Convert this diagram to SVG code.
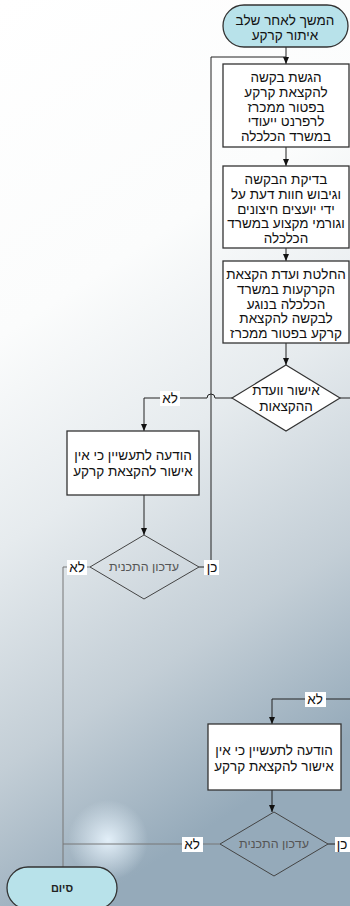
<svg xmlns="http://www.w3.org/2000/svg" width="350" height="906" viewBox="0 0 350 906">
<defs>
<linearGradient id="bg" x1="0" y1="0" x2="0.25" y2="1">
<stop offset="0" stop-color="#ffffff"/>
<stop offset="0.35" stop-color="#fbfcfc"/>
<stop offset="0.57" stop-color="#e6ebee"/>
<stop offset="0.8" stop-color="#c3ced6"/>
<stop offset="1" stop-color="#95aaba"/>
</linearGradient>
<radialGradient id="glow" cx="108" cy="840" r="40" gradientUnits="userSpaceOnUse">
<stop offset="0" stop-color="#eaf6ff" stop-opacity="0.9"/>
<stop offset="1" stop-color="#eaf6ff" stop-opacity="0"/>
</radialGradient>
<marker id="arr" markerWidth="8" markerHeight="6" refX="7" refY="3" orient="auto" markerUnits="userSpaceOnUse">
<path d="M0,0 L7,3 L0,6 Z" fill="#111"/>
</marker>
<style>
.box{fill:#fff;stroke:#333;stroke-width:1.3}
.term{fill:#b8e2ea;stroke:#333;stroke-width:1.3}
.dia{fill:#fff;stroke:#333;stroke-width:1.2}
.dia2{fill:none;stroke:#444;stroke-width:1}
.t{font-family:"Liberation Sans","DejaVu Sans",sans-serif;font-size:13.5px;fill:#111;text-anchor:middle}
.ts{font-family:"Liberation Sans","DejaVu Sans",sans-serif;font-size:12.5px;fill:#555;text-anchor:middle}
.tb{font-family:"Liberation Sans","DejaVu Sans",sans-serif;font-size:11px;font-weight:bold;fill:#222;text-anchor:middle}
.c{fill:none;stroke:#222;stroke-width:1}
.cg{fill:none;stroke:#777;stroke-width:1}
.lb{fill:#fff}
</style>
</defs>
<rect x="0" y="0" width="350" height="906" fill="url(#bg)"/>
<rect x="0" y="780" width="220" height="126" fill="url(#glow)"/>

<g id="connectors">
<path class="c" d="M286,47 V64" marker-end="url(#arr)"/>
<path class="c" d="M286,147 V166" marker-end="url(#arr)"/>
<path class="c" d="M286,248 V261" marker-end="url(#arr)"/>
<path class="c" d="M286,343 V365" marker-end="url(#arr)"/>
<path class="c" d="M232,398 H215 A4,4 0 0 0 207,398 H144 V431" marker-end="url(#arr)"/>
<path class="c" d="M340,398 H350"/>
<path class="c" d="M144,495 V535" marker-end="url(#arr)"/>
<path class="c" d="M199,567 H211 V57 H286"/>
<path class="cg" d="M90,567 H63 V867"/>
<path class="cg" d="M220,844 H63"/>
<path class="c" d="M350,699 H272 V724" marker-end="url(#arr)"/>
<path class="c" d="M272,790 V812" marker-end="url(#arr)"/>
<path class="c" d="M328,844 H350"/>
<rect class="lb" x="160" y="391" width="20" height="15"/>
<text class="t" x="170" y="403">לא</text>
<rect class="lb" x="204" y="560" width="15" height="15"/>
<text class="t" x="212" y="572">כן</text>
<rect class="lb" x="67" y="560" width="20" height="15"/>
<text class="t" x="77" y="572">לא</text>
<rect class="lb" x="305" y="692" width="21" height="15"/>
<text class="t" x="315" y="704">לא</text>
<rect class="lb" x="182" y="837" width="21" height="15"/>
<text class="t" x="192" y="849">לא</text>
<rect class="lb" x="335" y="837" width="15" height="15"/>
<text class="t" x="342" y="849">כן</text>
</g>

<g id="start">
<rect class="term" x="223" y="5" width="125" height="42" rx="21"/>
<text class="t" x="285" y="25">המשך לאחר שלב</text>
<text class="t" x="285" y="40">איתור קרקע</text>
</g>

<g id="box1">
<rect class="box" x="223" y="64" width="126" height="83"/>
<text class="t" x="286" y="82">הגשת בקשה</text>
<text class="t" x="286" y="96.8">להקצאת קרקע</text>
<text class="t" x="286" y="111.5">בפטור ממכרז</text>
<text class="t" x="286" y="126.3">לרפרנט ייעודי</text>
<text class="t" x="286" y="141">במשרד הכלכלה</text>
</g>

<g id="box2">
<rect class="box" x="223" y="166" width="126" height="82"/>
<text class="t" x="286" y="184">בדיקת הבקשה</text>
<text class="t" x="286" y="198.8">וגיבוש חוות דעת על</text>
<text class="t" x="286" y="213.5">ידי יועצים חיצונים</text>
<text class="t" x="286" y="228.3">וגורמי מקצוע במשרד</text>
<text class="t" x="286" y="243">הכלכלה</text>
</g>

<g id="box3">
<rect class="box" x="223" y="261" width="126" height="82"/>
<text class="t" x="286" y="279">החלטת ועדת הקצאת</text>
<text class="t" x="286" y="293.8">הקרקעות במשרד</text>
<text class="t" x="286" y="308.5">הכלכלה בנוגע</text>
<text class="t" x="286" y="323.3">לבקשה להקצאת</text>
<text class="t" x="286" y="338">קרקע בפטור ממכרז</text>
</g>

<g id="decision1">
<polygon class="dia" points="286,365 340,398 286,431 232,398"/>
<text class="t" x="286" y="395">אישור וועדת</text>
<text class="t" x="286" y="411">ההקצאות</text>
</g>

<g id="box4">
<rect class="box" x="67" y="431" width="132" height="64"/>
<text class="t" x="133" y="460">הודעה לתעשיין כי אין</text>
<text class="t" x="133" y="476">אישור להקצאת קרקע</text>
</g>

<g id="decision2">
<polygon class="dia2" points="144,535 199,567 144,599 90,567"/>
<text class="ts" x="144" y="571">עדכון התכנית</text>
</g>

<g id="box5">
<rect class="box" x="208" y="724" width="133" height="66"/>
<text class="t" x="274" y="755">הודעה לתעשיין כי אין</text>
<text class="t" x="274" y="771">אישור להקצאת קרקע</text>
</g>

<g id="decision3">
<polygon class="dia2" points="274,812 328,844 274,876 220,844"/>
<text class="ts" x="274" y="848">עדכון התכנית</text>
</g>

<g id="end">
<rect class="term" x="7" y="867" width="110" height="42" rx="21"/>
<text class="tb" x="62" y="892">סיום</text>
</g>
</svg>
